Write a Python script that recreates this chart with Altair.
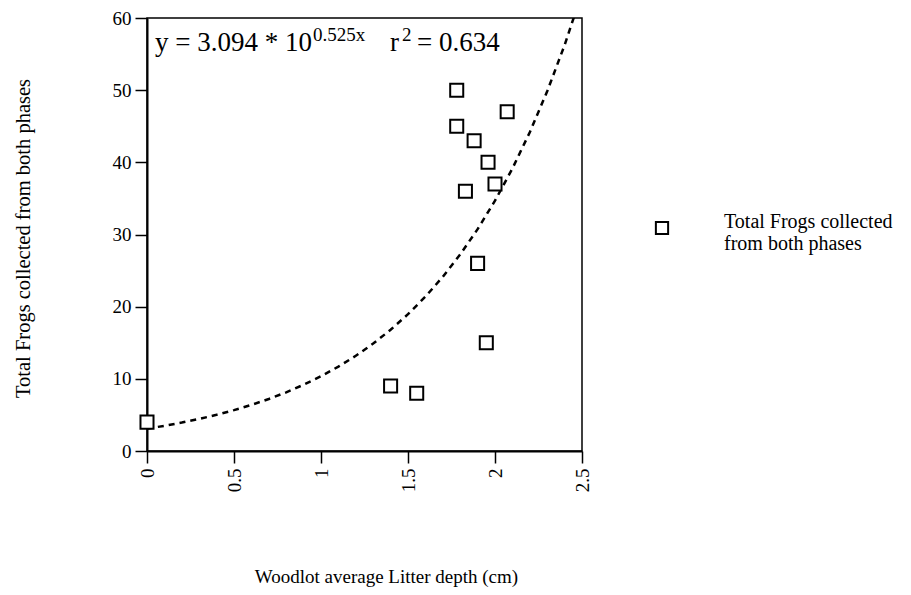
import altair as alt
import pandas as pd

# ---- data ----
depth = [0.0, 1.40, 1.55, 1.78, 1.78, 1.83, 1.88, 1.90, 1.95, 1.96, 2.00, 2.07]
frogs = [4, 9, 8, 50, 45, 36, 43, 26, 15, 40, 37, 47]
series_name = "Total Frogs collected from both phases"

x_ticks = [0, 0.5, 1, 1.5, 2, 2.5]
y_ticks = [0, 10, 20, 30, 40, 50, 60]

x_title = "Woodlot average Litter depth (cm)"
y_title = "Total Frogs collected from both phases"

# equation annotation pieces (main text / superscripts)
eq_main = ["y = 3.094 * 10", "r", "= 0.634"]
eq_sup = ["0.525x", "2"]

FONT = "Liberation Serif"

df = pd.DataFrame({"depth": depth, "frogs": frogs, "series": series_name})

base = alt.Chart(df)

xscale = alt.Scale(domain=[0, 2.5], nice=False, zero=False)
yscale = alt.Scale(domain=[0, 60], nice=False)

points = base.mark_point(
    shape="square", size=170, fill="white", fillOpacity=1, strokeWidth=2,
    opacity=1
).encode(
    x=alt.X("depth:Q", scale=xscale, title=x_title,
            axis=alt.Axis(values=x_ticks, labelAngle=-90, format="~g",
                          labelPadding=5, titleX=239, titleY=131,
                          titleFontSize=19, titleBaseline="alphabetic")),
    y=alt.Y("frogs:Q", scale=yscale, title=y_title,
            axis=alt.Axis(values=y_ticks, labelPadding=4, titleX=-124,
                          titleY=220, titleFontSize=20.5,
                          titleBaseline="middle", titleAlign="center")),
    stroke=alt.Stroke("series:N", scale=alt.Scale(range=["black"]),
                      legend=alt.Legend(
                          title=None, orient="none", legendX=505, legendY=200,
                          symbolType="square", symbolOpacity=1,
                          symbolFillColor="white",
                          symbolStrokeWidth=2, symbolSize=150,
                          labelFont=FONT, labelFontSize=20, labelColor="black",
                          labelOffset=52, labelLimit=400,
                          labelBaseline="alphabetic",
                          labelExpr="[substring(datum.label, 0, 21), substring(datum.label, 21)]")),
)

fit = base.transform_calculate(
    logy="log(datum.frogs) / LN10"
).transform_regression(
    "depth", "logy", method="poly", order=1, extent=[0, 2.5]
).transform_calculate(
    fit="pow(10, datum.logy)"
).mark_line(
    color="black", strokeDash=[6, 5], strokeWidth=2.5, clip=True
).encode(
    x=alt.X("depth:Q", scale=xscale, title=x_title),
    y=alt.Y("fit:Q", scale=yscale, title=y_title),
)

one = alt.Data(values=[{}])
eq_layers = []
main_pos = [(8, 33), (243, 33), (270, 33)]
sup_pos = [(166, 23), (255, 23)]
for txt, (px, py) in zip(eq_main, main_pos):
    eq_layers.append(
        alt.Chart(one).mark_text(font=FONT, fontSize=27, align="left",
                                 baseline="alphabetic", color="black")
        .encode(x=alt.value(px), y=alt.value(py), text=alt.value(txt))
    )
for txt, (px, py) in zip(eq_sup, sup_pos):
    eq_layers.append(
        alt.Chart(one).mark_text(font=FONT, fontSize=19, align="left",
                                 baseline="alphabetic", color="black")
        .encode(x=alt.value(px), y=alt.value(py), text=alt.value(txt))
    )

chart = alt.layer(fit, points, *eq_layers).properties(
    width=435, height=433,
    autosize=alt.AutoSizeParams(type="none"),
    padding={"left": 139, "top": 10, "right": 314, "bottom": 142},
).configure_view(
    stroke="black", strokeWidth=1.5
).configure_axis(
    grid=False, domainColor="black", domainWidth=2, tickColor="black",
    tickWidth=1.5, tickSize=12, labelFont=FONT, labelFontSize=19,
    labelColor="black", titleFont=FONT, titleFontSize=19,
    titleFontWeight="normal", titleColor="black"
)

chart.save("out.html", embed_options={"renderer": "svg", "actions": False})
